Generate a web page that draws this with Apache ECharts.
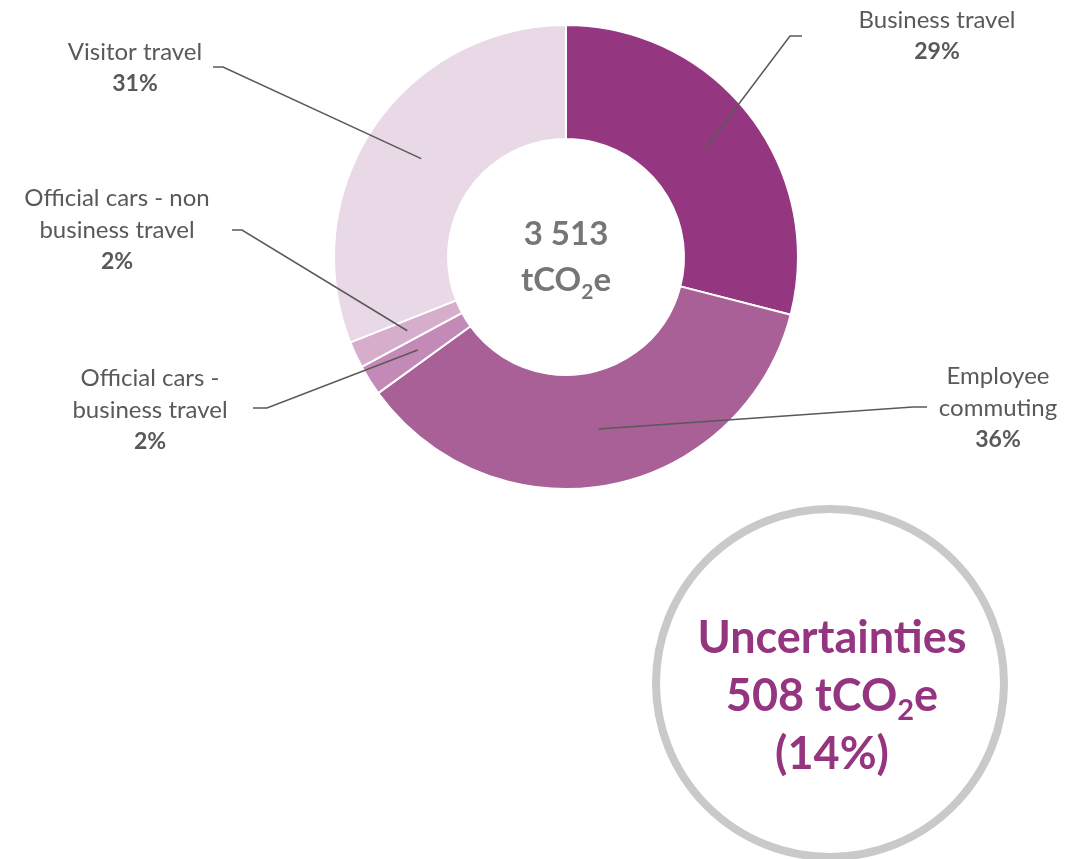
<!DOCTYPE html>
<html>
<head>
<meta charset="utf-8">
<title>Travel emissions</title>
<script src="https://cdn.jsdelivr.net/npm/echarts@6/dist/echarts.min.js"></script>
<style>
  html, body { margin: 0; padding: 0; background: #fff; }
  #chart { width: 1074px; height: 859px; }
</style>
</head>
<body>
<div id="chart"></div>
<script>
// categories (clockwise from 12 o'clock) and emissions in tCO2e
const categories = [
  'Business travel',
  'Employee\ncommuting',
  'Official cars -\nbusiness travel',
  'Official cars - non\nbusiness travel',
  'Visitor travel'
];
const emissions = [1019, 1265, 75, 65, 1089];
const totalLabel = '3 513';
const uncertaintyValue = '508';
const uncertaintyShare = '14%';

const colors = ['#953680', '#a86097', '#c48ab7', '#d6aecc', '#e9d8e5'];

// label anchors: [label centre x, y, elbow x, elbow y, end x]
const labelAnchors = [
  [937, 36, 790, 36, 802],
  [998, 408, 913, 407, 927],
  [150, 410, 267, 408, 253],
  [117, 230, 242, 230, 232],
  [135, 68, 223, 67, 213]
];

const CX = 566, CY = 257, R_IN = 118, R_OUT = 232;
const R_MID = (R_IN + R_OUT) / 2;
const FONT = 'Lato, "Open Sans", sans-serif';

const chart = echarts.init(document.getElementById('chart'));

const pieData = categories.map((name, i) => ({ name: name, value: emissions[i] }));

const option = {
  animation: false,
  backgroundColor: '#fff',
  graphic: [
    // total in the hole
    {
      type: 'text',
      x: CX, y: CY,
      style: {
        text: '{b|' + totalLabel + '}\n{b|tCO}{s|2}{b|e}',
        align: 'center',
        verticalAlign: 'middle',
        rich: {
          b: { fontFamily: FONT, fontSize: 33, fontWeight: 'bold', fill: '#767676', lineHeight: 46 },
          s: { fontFamily: FONT, fontSize: 21, fontWeight: 'bold', fill: '#767676', lineHeight: 46, verticalAlign: 'bottom', padding: [14, 0, 0, 0] }
        }
      }
    },
    // uncertainties bubble
    {
      type: 'circle',
      shape: { cx: 830, cy: 683, r: 174 },
      style: { fill: '#fff', stroke: '#c9c9c9', lineWidth: 8 }
    },
    {
      type: 'text',
      x: 832, y: 696,
      style: {
        text: '{b|Uncertainties}\n{b|' + uncertaintyValue + ' tCO}{s|2}{b|e}\n{b|(' + uncertaintyShare + ')}',
        align: 'center',
        verticalAlign: 'middle',
        rich: {
          b: { fontFamily: FONT, fontSize: 45, fontWeight: 'bold', fill: '#953580', lineHeight: 58 },
          s: { fontFamily: FONT, fontSize: 29, fontWeight: 'bold', fill: '#953580', lineHeight: 58, verticalAlign: 'bottom', padding: [17, 0, 0, 0] }
        }
      }
    }
  ],
  series: [
    // the ring itself
    {
      type: 'pie',
      center: [CX, CY],
      radius: [R_IN, R_OUT],
      startAngle: 90,
      clockwise: true,
      silent: true,
      itemStyle: { borderColor: '#fff', borderWidth: 2 },
      label: { show: false },
      labelLine: { show: false },
      data: pieData.map((d, i) => ({ name: d.name, value: d.value, itemStyle: { color: colors[i] } }))
    },
    // transparent copy on top, carrying the labels and leader lines
    {
      type: 'pie',
      z: 5,
      center: [CX, CY],
      radius: [R_IN, R_OUT],
      startAngle: 90,
      clockwise: true,
      silent: true,
      avoidLabelOverlap: false,
      itemStyle: { color: 'rgba(0,0,0,0)', borderWidth: 0 },
      data: pieData,
      label: {
        show: true,
        position: 'outside',
        align: 'center',
        formatter: (p) => {
          const lines = p.name.split('\n').map(s => '{n|' + s + '}');
          return lines.join('\n') + '\n{p|' + Math.round(p.percent) + '%}';
        },
        rich: {
          n: { fontFamily: FONT, fontSize: 24, color: '#595959', lineHeight: 32, align: 'center' },
          p: { fontFamily: FONT, fontSize: 23, fontWeight: 'bold', color: '#595959', lineHeight: 32, align: 'center' }
        }
      },
      labelLine: {
        show: true,
        length: 10,
        length2: 10,
        lineStyle: { color: '#595959', width: 1.5 }
      },
      labelLayout: (params) => {
        const a = labelAnchors[params.dataIndex];
        const p0 = params.labelLinePoints[0];
        const k = R_MID / R_OUT;
        const start = [CX + (p0[0] - CX) * k, CY + (p0[1] - CY) * k];
        return {
          x: a[0],
          y: a[1],
          align: 'center',
          verticalAlign: 'middle',
          labelLinePoints: [start, [a[2], a[3]], [a[4], a[3]]]
        };
      }
    }
  ]
};

chart.setOption(option);
</script>
</body>
</html>
